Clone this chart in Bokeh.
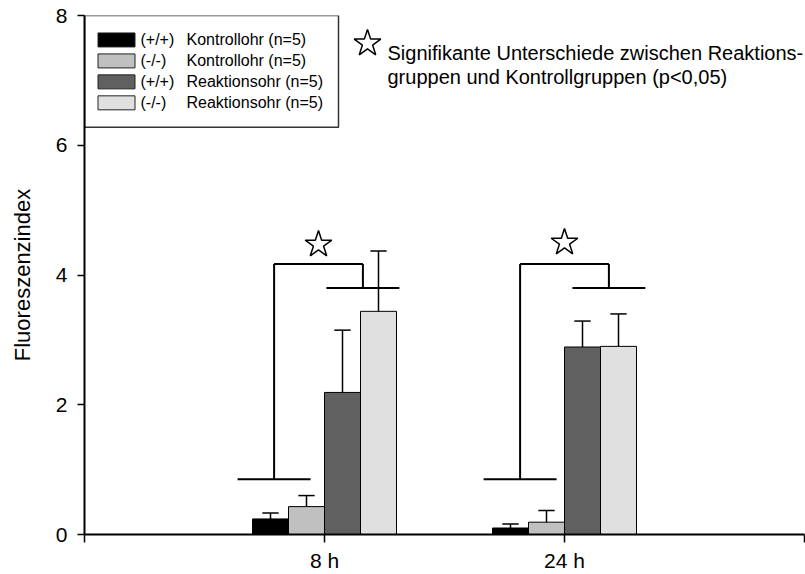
from bokeh.plotting import figure
from bokeh.models import FixedTicker
from bokeh.core.properties import value
from bokeh.embed import file_html
from bokeh.resources import INLINE

# ---------------- data ----------------
timepoints = ["8 h", "24 h"]
series_prefix = ["(+/+)", "(-/-)", "(+/+)", "(-/-)"]
series_names = ["Kontrollohr (n=5)", "Kontrollohr (n=5)",
                "Reaktionsohr (n=5)", "Reaktionsohr (n=5)"]
series_colors = ["#000000", "#c0c0c0", "#606060", "#e0e0e0"]

mean_8h = [0.24, 0.43, 2.19, 3.44]
err_8h = [0.09, 0.17, 0.96, 0.93]
mean_24h = [0.10, 0.19, 2.89, 2.90]
err_24h = [0.06, 0.18, 0.40, 0.50]

# significance brackets (levels on the y scale)
bracket_ctrl_level = [0.85, 0.85]
bracket_react_level = [3.80, 3.80]
bracket_top_level = [4.17, 4.17]
star_level = [4.47, 4.50]

y_ticks = [0, 2, 4, 6, 8]
y_title = "Fluoreszenzindex"
note_lines = ["Signifikante Unterschiede zwischen Reaktions-",
              "gruppen und Kontrollgruppen (p<0,05)"]

FONT = "Liberation Sans"

# ---------------- figure ----------------
p = figure(width=805, height=574, x_range=(0, 3), y_range=(0, 8),
           output_backend="svg", toolbar_location=None,
           min_border_left=84, min_border_right=1,
           min_border_top=15, min_border_bottom=39)
p.xgrid.visible = False
p.ygrid.visible = False
p.outline_line_color = None
p.background_fill_color = "white"

# pixel -> data helpers for annotation placement (frame 84..804 x 15..535)
def px2x(px):
    return (px - 84) / 240.0

def px2y(py):
    return (535 - py) / 65.0

group_x = [1, 2]
bar_w = 0.15
offsets = [(i - 1.5) * bar_w for i in range(4)]
cap = 0.034

all_means = [mean_8h, mean_24h]
all_errs = [err_8h, err_24h]

for s in range(4):
    xs = [group_x[g] + offsets[s] for g in range(2)]
    tops = [all_means[g][s] for g in range(2)]
    p.vbar(x=xs, top=tops, bottom=0, width=bar_w,
           fill_color=series_colors[s], line_color="black", line_width=1)

for s in range(4):
    xs = [group_x[g] + offsets[s] for g in range(2)]
    m = [all_means[g][s] for g in range(2)]
    hi = [all_means[g][s] + all_errs[g][s] for g in range(2)]
    p.segment(x0=xs, y0=m, x1=xs, y1=hi, line_color="black", line_width=1.5)
    p.segment(x0=[x - cap for x in xs], y0=hi, x1=[x + cap for x in xs], y1=hi,
              line_color="black", line_width=1.5)

# brackets
ctrl_center = [-0.21, -0.185]
react_center = [0.16, 0.185]
half = 0.152
bx0, by0, bx1, by1 = [], [], [], []
star_x = []
for g in range(2):
    cx = group_x[g] + ctrl_center[g]
    rx = group_x[g] + react_center[g]
    bx0.append(cx - half); bx1.append(cx + half)
    by0.append(bracket_ctrl_level[g]); by1.append(bracket_ctrl_level[g])
    bx0.append(rx - half); bx1.append(rx + half)
    by0.append(bracket_react_level[g]); by1.append(bracket_react_level[g])
    bx0.append(cx); bx1.append(cx)
    by0.append(bracket_ctrl_level[g]); by1.append(bracket_top_level[g])
    bx0.append(rx); bx1.append(rx)
    by0.append(bracket_react_level[g]); by1.append(bracket_top_level[g])
    bx0.append(cx); bx1.append(rx)
    by0.append(bracket_top_level[g]); by1.append(bracket_top_level[g])
    star_x.append((cx + rx) / 2)
p.segment(x0=bx0, y0=by0, x1=bx1, y1=by1, line_color="black", line_width=2)
p.scatter(x=star_x, y=star_level, marker="star", size=28,
          fill_color="white", line_color="black", line_width=1.5)

# legend box (drawn manually)
p.quad(left=[px2x(84)], right=[px2x(338)], top=[px2y(15)], bottom=[px2y(127)],
       fill_color="white", line_color="#333333", line_width=1.5)
row_py = [39.5, 60.5, 81.5, 102.5]
p.rect(x=[px2x(116)] * 4, y=[px2y(r) for r in row_py], width=37, height=14,
       width_units="screen", height_units="screen",
       fill_color=series_colors, line_color="#222222", line_width=1)
p.text(x=[px2x(140)] * 4, y=[px2y(r) for r in row_py], text=series_prefix,
       text_font=value(FONT), text_font_size="16px", text_color="black",
       text_baseline="middle", text_align="left")
p.text(x=[px2x(186)] * 4, y=[px2y(r) for r in row_py], text=series_names,
       text_font=value(FONT), text_font_size="16px", text_color="black",
       text_baseline="middle", text_align="left")

# significance note
p.scatter(x=[px2x(367)], y=[px2y(43)], marker="star", size=28,
          fill_color="white", line_color="black", line_width=1.5)
p.text(x=[px2x(387)] * 2, y=[px2y(52.5), px2y(77)], text=note_lines,
       text_font=value(FONT), text_font_size="20px", text_color="black",
       text_baseline="alphabetic", text_align="left")

# axes
xa = p.xaxis[0]
xa.ticker = FixedTicker(ticks=[0, 1, 2, 3])
xa.major_label_overrides = {0: "", 1: timepoints[0], 2: timepoints[1], 3: ""}
xa.minor_tick_line_color = None
xa.major_tick_out = 8
xa.major_tick_in = 0
xa.major_tick_line_width = 1.5
xa.major_tick_line_color = "black"
xa.axis_line_width = 2
xa.axis_line_color = "black"
xa.major_label_text_font = FONT
xa.major_label_text_font_size = "21px"
xa.major_label_text_color = "black"
xa.major_label_standoff = 6

ya = p.yaxis[0]
ya.ticker = FixedTicker(ticks=y_ticks)
ya.minor_tick_line_color = None
ya.major_tick_out = 7
ya.major_tick_in = 0
ya.major_tick_line_width = 1.5
ya.major_tick_line_color = "black"
ya.axis_line_width = 2
ya.axis_line_color = "black"
ya.major_label_text_font = FONT
ya.major_label_text_font_size = "21px"
ya.major_label_text_color = "black"
ya.major_label_standoff = 10
ya.axis_label = y_title
ya.axis_label_text_font = FONT
ya.axis_label_text_font_size = "22px"
ya.axis_label_text_font_style = "normal"
ya.axis_label_text_color = "black"
ya.axis_label_standoff = 18

open("out.html", "w").write(file_html(p, INLINE))
